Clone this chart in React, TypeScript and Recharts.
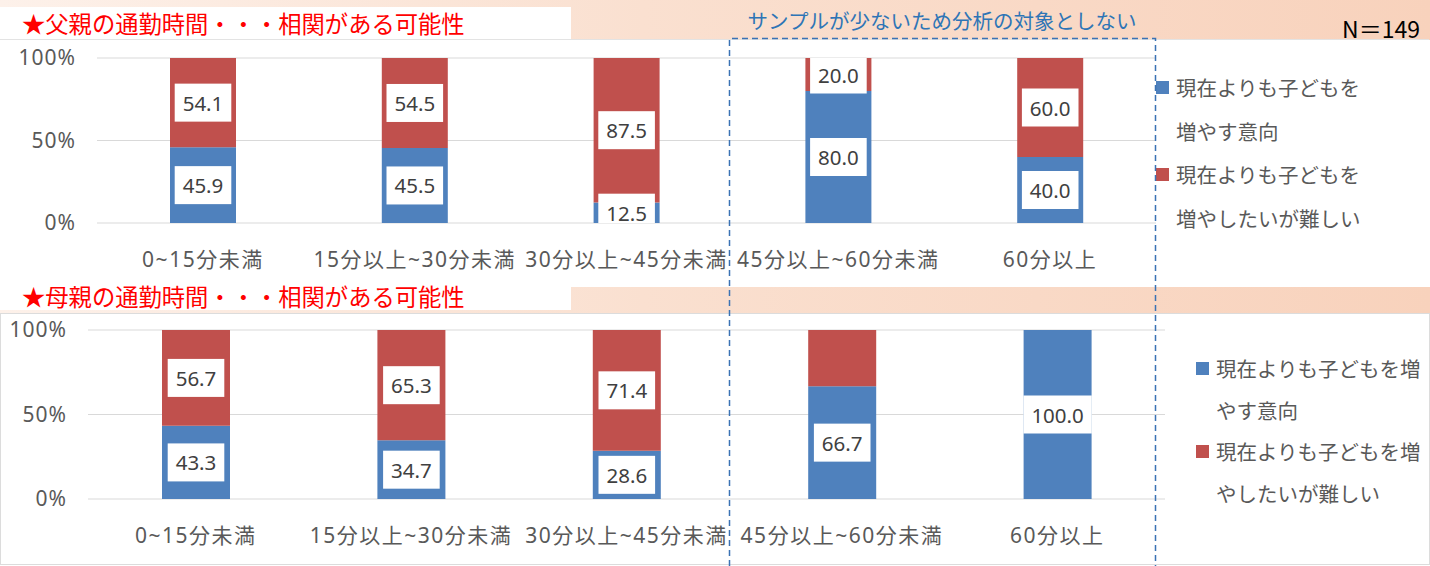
import React from 'react';
import { BarChart, Bar, XAxis, YAxis, CartesianGrid, Legend, LabelList } from 'recharts';

// ---------- data ----------
const categories = ['0~15分未満', '15分以上~30分未満', '30分以上~45分未満', '45分以上~60分未満', '60分以上'];
const seriesNames = ['現在よりも子どもを増やす意向', '現在よりも子どもを増やしたいが難しい'];
const fatherIncrease = [45.9, 45.5, 12.5, 80.0, 40.0];
const fatherDifficult = [54.1, 54.5, 87.5, 20.0, 60.0];
const motherIncrease = [43.3, 34.7, 28.6, 66.7, 100.0];
const motherDifficult = [56.7, 65.3, 71.4, 33.3, 0];
const fatherIncreaseLabelShown = [true, true, true, true, true];
const fatherDifficultLabelShown = [true, true, true, true, true];
const motherIncreaseLabelShown = [true, true, true, true, true];
const motherDifficultLabelShown = [true, true, true, false, false];
const yTicks = [0, 50, 100];
const fatherTitle = '★父親の通勤時間・・・相関がある可能性';
const motherTitle = '★母親の通勤時間・・・相関がある可能性';
const noteText = 'サンプルが少ないため分析の対象としない';
const sampleText = 'N＝149';

const fatherData = categories.map((c, i) => ({ category: c, increase: fatherIncrease[i], difficult: fatherDifficult[i] }));
const motherData = categories.map((c, i) => ({ category: c, increase: motherIncrease[i], difficult: motherDifficult[i] }));

// ---------- styles ----------
const BLUE = '#4f81bd';
const RED = '#c0504d';
const GRID = '#d9d9d9';
const AXIS_TEXT = '#595959';
const FONT = "'Noto Sans', 'Noto Sans CJK JP', sans-serif";
const CJK = "'Noto Sans CJK JP', sans-serif";

function estTextWidth(t: string) {
  let w = 0;
  for (const ch of t) w += ch === '.' ? 5.5 : 11.7;
  return w;
}

function makeLabel(prefix: string, position: 'bottom' | 'top', shown: boolean[]) {
  return (props: any) => {
    const { value, index } = props;
    const vb = props.viewBox && props.viewBox.width != null ? props.viewBox : props;
    const num = Number(value);
    if (value == null || !num) return null;
    if (index != null && shown[index] === false) return null;
    const x = Number(vb.x), y = Number(vb.y), w = Number(vb.width), h = Number(vb.height);
    const segTop = Math.min(y, y + h);
    const segH = Math.abs(h);
    const full = (segH * 100) / num;
    const clipTop = position === 'bottom' ? segTop + segH - full : segTop;
    const text = num.toFixed(1);
    const cx = x + w / 2;
    const cy = segTop + segH / 2;
    const boxW = estTextWidth(text) + 16;
    const boxH = 38;
    const id = `${prefix}-${index}`;
    return (
      <g>
        <defs>
          <clipPath id={id}>
            <rect x={cx - boxW / 2 - 4} y={clipTop} width={boxW + 8} height={full} />
          </clipPath>
        </defs>
        <g clipPath={`url(#${id})`}>
          <rect x={cx - boxW / 2} y={cy - boxH / 2} width={boxW} height={boxH} fill="#ffffff" />
          <text x={cx} y={cy} textAnchor="middle" dominantBaseline="central" fontSize={20.5} fill="#404040" fontFamily={FONT}>
            {text}
          </text>
        </g>
      </g>
    );
  };
}

function makeLegend(legendWidth: number, textWidth: number, lineHeight: number, paddingLeft: number) {
  return (props: any) => {
    const payload = [...(props.payload || [])].sort(
      (a: any, b: any) => seriesNames.indexOf(a.value) - seriesNames.indexOf(b.value)
    );
    return (
      <div style={{ width: legendWidth, paddingLeft, boxSizing: 'border-box', fontFamily: FONT }}>
        {payload.map((p: any, i: number) => (
          <div key={i} style={{ display: 'flex', alignItems: 'flex-start' }}>
            <div style={{ width: 13, height: 13, background: p.color, marginTop: (lineHeight - 13) / 2, marginRight: 7, flex: 'none' }} />
            <div style={{ width: textWidth, fontSize: 20.5, lineHeight: `${lineHeight}px`, color: AXIS_TEXT, fontFamily: CJK }}>
              {p.value}
            </div>
          </div>
        ))}
      </div>
    );
  };
}

type PanelProps = {
  data: any[];
  height: number;
  marginTop: number;
  marginBottom: number;
  yAxisWidth: number;
  xAxisHeight: number;
  legendWidth: number;
  legendTextWidth: number;
  legendLineHeight: number;
  legendPadLeft: number;
  legendTop: number;
  barSize: number;
  prefix: string;
  incShown: boolean[];
  difShown: boolean[];
};

function Panel(p: PanelProps) {
  return (
    <BarChart
      width={1430}
      height={p.height}
      data={p.data}
      margin={{ top: p.marginTop, right: 0, left: 0, bottom: p.marginBottom }}
      style={{ fontFamily: FONT }}
    >
      <CartesianGrid vertical={false} stroke={GRID} strokeWidth={1} />
      <XAxis
        dataKey="category"
        height={p.xAxisHeight}
        tickLine={false}
        axisLine={false}
        interval={0}
        tickMargin={23}
        tick={{ fontSize: 21, fill: AXIS_TEXT, letterSpacing: 1.5 }}
      />
      <YAxis
        width={p.yAxisWidth}
        domain={[0, 100]}
        ticks={yTicks}
        tickFormatter={(v: number) => `${v}%`}
        tickLine={false}
        axisLine={false}
        tickMargin={15}
        tick={{ fontSize: 21, fill: AXIS_TEXT, letterSpacing: 1 }}
      />
      <Legend
        layout="vertical"
        align="right"
        verticalAlign="top"
        wrapperStyle={{ left: 1430 - p.legendWidth, top: p.legendTop, width: p.legendWidth }}
        content={makeLegend(p.legendWidth, p.legendTextWidth, p.legendLineHeight, p.legendPadLeft)}
      />
      <Bar dataKey="increase" name={seriesNames[0]} stackId="s" fill={BLUE} barSize={p.barSize} isAnimationActive={false}>
        <LabelList dataKey="increase" content={makeLabel(`${p.prefix}-inc`, 'bottom', p.incShown)} />
      </Bar>
      <Bar dataKey="difficult" name={seriesNames[1]} stackId="s" fill={RED} barSize={p.barSize} isAnimationActive={false}>
        <LabelList dataKey="difficult" content={makeLabel(`${p.prefix}-dif`, 'top', p.difShown)} />
      </Bar>
    </BarChart>
  );
}

export default function App() {
  const band = 'linear-gradient(to right, #fdf1ea 0%, #fae0d0 45%, #f8d2bc 100%)';
  return (
    <div style={{ position: 'fixed', left: 0, top: 0, width: 1430, height: 566, overflow: 'hidden', background: '#ffffff', fontFamily: FONT }}>
      {/* top band */}
      <div style={{ position: 'absolute', left: 0, top: 0, width: 1430, height: 40, background: band }} />
      <div style={{ position: 'absolute', left: 0, top: 7, width: 571, height: 32, background: '#ffffff' }} />
      <div style={{ position: 'absolute', left: 22, top: 7, height: 32, lineHeight: '32px', fontSize: 23.3, color: '#ff0000', fontFamily: CJK, whiteSpace: 'nowrap' }}>
        {fatherTitle}
      </div>
      <div style={{ position: 'absolute', left: 742, width: 400, top: 5, height: 30, lineHeight: '30px', fontSize: 20.5, color: '#2e75b6', textAlign: 'center', fontFamily: CJK, whiteSpace: 'nowrap' }}>
        {noteText}
      </div>
      <div style={{ position: 'absolute', right: 10, top: 13, height: 30, lineHeight: '30px', fontSize: 23, color: '#000000', fontFamily: CJK, whiteSpace: 'nowrap' }}>
        {sampleText}
      </div>

      {/* top panel */}
      <div style={{ position: 'absolute', left: 0, top: 39, width: 1429, height: 239, background: '#ffffff', borderTop: '1px solid #e3e3e3' }} />
      <div style={{ position: 'absolute', left: 0, top: 40 }}>
        <Panel
          data={fatherData}
          height={238}
          marginTop={18}
          marginBottom={15}
          yAxisWidth={97}
          xAxisHeight={40}
          legendWidth={274}
          legendTextWidth={192}
          legendLineHeight={43.5}
          legendPadLeft={0}
          legendTop={26}
          barSize={66}
          prefix="f"
          incShown={fatherIncreaseLabelShown}
          difShown={fatherDifficultLabelShown}
        />
      </div>

      {/* bottom band */}
      <div style={{ position: 'absolute', left: 0, top: 287, width: 1430, height: 26, background: band }} />
      <div style={{ position: 'absolute', left: 0, top: 280, width: 571, height: 30, background: '#ffffff' }} />
      <div style={{ position: 'absolute', left: 22, top: 280, height: 32, lineHeight: '32px', fontSize: 23.3, color: '#ff0000', fontFamily: CJK, whiteSpace: 'nowrap' }}>
        {motherTitle}
      </div>

      {/* bottom panel */}
      <div style={{ position: 'absolute', left: 0, top: 313, width: 1428, height: 250, background: '#ffffff', border: '1px solid #dcdcdc' }} />
      <div style={{ position: 'absolute', left: 0, top: 313 }}>
        <Panel
          data={motherData}
          height={253}
          marginTop={17}
          marginBottom={22}
          yAxisWidth={88}
          xAxisHeight={45}
          legendWidth={265}
          legendTextWidth={213}
          legendLineHeight={41.5}
          legendPadLeft={31}
          legendTop={35}
          barSize={68}
          prefix="m"
          incShown={motherIncreaseLabelShown}
          difShown={motherDifficultLabelShown}
        />
      </div>

      {/* dashed annotation box */}
      <svg width={1430} height={566} style={{ position: 'absolute', left: 0, top: 0, pointerEvents: 'none' }}>
        <path d="M729.5,566 V38.5 H1155.5 V566" fill="none" stroke="#3a72b4" strokeWidth={1.5} strokeDasharray="6 4" />
      </svg>
    </div>
  );
}
